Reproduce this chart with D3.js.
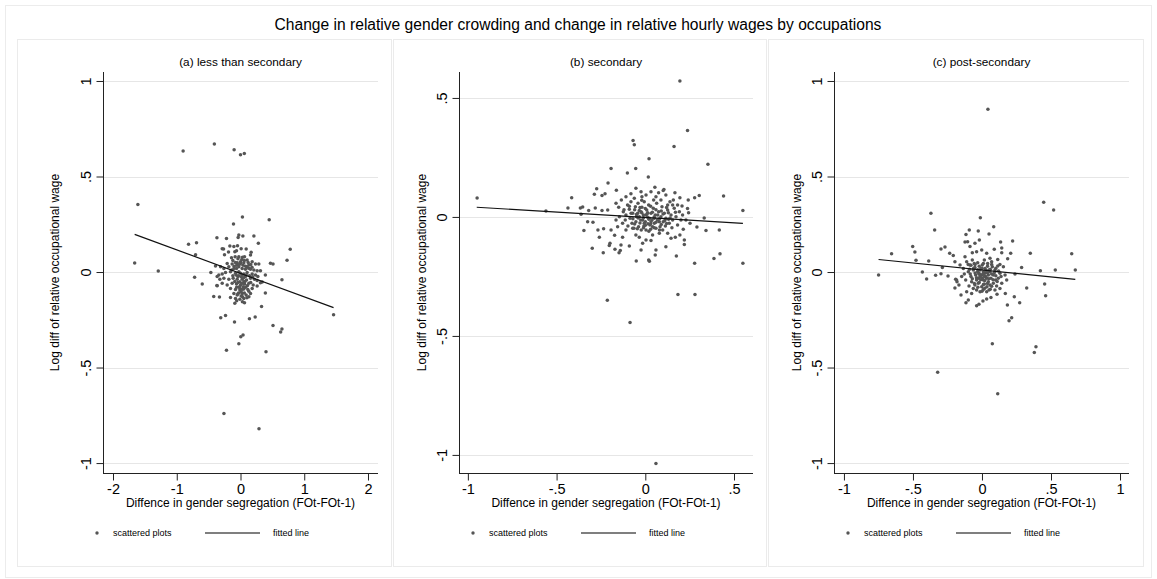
<!DOCTYPE html>
<html><head><meta charset="utf-8">
<script src="https://cdn.jsdelivr.net/npm/d3@7"></script>
<style>body{margin:0;background:#fff}text{font-family:"Liberation Sans",Arial,sans-serif;fill:#000}</style>
</head><body>
<script>
// ---------------- DATA ----------------
const mainTitle = "Change in relative gender crowding and change in relative hourly wages by occupations";
const panelTitles = ["(a) less than secondary", "(b) secondary", "(c) post-secondary"];
const xAxisTitle = "Diffence in gender segregation (FOt-FOt-1)";
const yAxisTitle = "Log diff of relative occupational wage";
const legendLabels = ["scattered plots", "fitted line"];

const xTicksA = [-2, -1, 0, 1, 2];
const xTickLabelsA = ["-2", "-1", "0", "1", "2"];
const xTicksB = [-1, -0.5, 0, 0.5];
const xTickLabelsB = ["-1", "-.5", "0", ".5"];
const xTicksC = [-1, -0.5, 0, 0.5, 1];
const xTickLabelsC = ["-1", "-.5", "0", ".5", "1"];
const yTicksAC = [-1, -0.5, 0, 0.5, 1];
const yTickLabelsAC = ["-1", "-.5", "0", ".5", "1"];
const yTicksB = [-1, -0.5, 0, 0.5];
const yTickLabelsB = ["-1", "-.5", "0", ".5"];

// fitted lines: [intercept, slope, xStart, xEnd]
const fitA = [-0.007, -0.123, -1.66, 1.46];
const fitB = [-0.002, -0.045, -0.95, 0.55];
const fitC = [0.011, -0.073, -0.749, 0.676];

const pointsA = [
[-0.90,0.633],[-0.41,0.67],[-0.10,0.64],[0.0,0.614],[0.06,0.62],[-1.61,0.354],[-1.66,0.047],[-1.29,0.005],[-0.815,0.145],[-0.69,0.153],[-0.705,0.09],[-0.72,-0.028],[-0.6,-0.063],[-0.465,-0.002],[-0.37,0.18],[-0.22,0.175],[-0.11,0.251],[0.03,0.288],[0.45,0.274],[0.21,0.188],[0.28,0.15],[0.78,0.119],[0.73,0.061],[0.47,0.046],[0.51,0.042],[0.65,-0.04],[0.39,-0.016],[0.34,-0.052],[0.39,-0.11],[0.33,-0.18],[1.46,-0.224],[0.51,-0.28],[0.65,-0.298],[0.63,-0.314],[0.23,-0.236],[0.14,-0.244],[-0.094,-0.262],[-0.235,-0.227],[-0.31,-0.239],[0.04,-0.33],[0.005,-0.339],[-0.026,-0.375],[-0.22,-0.41],[0.40,-0.417],[-0.42,-0.128],[-0.33,-0.131],[-0.37,-0.07],[-0.26,-0.74],[0.29,-0.82],
[-0.026,0.194],[0.037,0.188],[-0.037,0.181],[-0.167,0.136],[-0.104,0.133],[-0.047,0.138],[0.010,0.122],[0.089,0.120],[-0.287,0.122],[-0.266,0.120],[0.167,0.103],[0.157,0.089],[-0.251,0.091],[-0.188,0.105],[-0.089,0.106],[-0.063,0.112],[-0.141,0.075],[-0.084,0.080],[-0.026,0.080],[0.031,0.077],[0.063,0.080],[0.104,0.063],[0.183,0.054],[0.235,0.042],[0.287,0.042],[-0.209,0.045],[-0.131,0.042],[-0.052,0.049],[0.0,0.054],[0.052,0.049],[0.131,0.037],[-0.313,0.028],[-0.392,0.031],[-0.261,0.019],[-0.183,0.028],[-0.104,0.019],[-0.026,0.028],[0.026,0.019],[0.078,0.014],[0.157,0.014],[0.209,0.010],[0.261,0.007],[0.313,0.007],[-0.340,-0.016],[-0.287,-0.010],[-0.235,-0.003],[-0.157,0.002],[-0.078,-0.007],[0.0,-0.007],[0.052,-0.010],[0.104,-0.003],[0.183,-0.010],[0.235,-0.016],[0.272,-0.024],[-0.366,-0.024],[-0.324,-0.038],[-0.261,-0.033],[-0.183,-0.038],[-0.115,-0.033],[-0.052,-0.038],[0.026,-0.038],[0.094,-0.042],[0.157,-0.033],[0.219,-0.038],[0.261,-0.045],[0.313,-0.056],[-0.287,-0.059],[-0.209,-0.068],[-0.131,-0.059],[-0.063,-0.063],[0.0,-0.068],[0.063,-0.063],[0.131,-0.059],[0.199,-0.068],[0.261,-0.073],[-0.366,-0.072],[-0.157,-0.086],[-0.078,-0.091],[-0.010,-0.094],[0.052,-0.089],[0.115,-0.091],[0.183,-0.086],[-0.104,-0.112],[-0.042,-0.115],[0.026,-0.112],[0.089,-0.120],[0.157,-0.112],[-0.157,-0.134],[-0.078,-0.138],[-0.010,-0.143],[0.052,-0.138],[0.131,-0.129],[-0.089,-0.164],[0.063,-0.161],
[-0.026,0.002],[0.026,-0.016],[-0.010,-0.051],[0.042,-0.077],[-0.042,-0.024],[0.010,-0.103],[0.078,-0.024],[-0.063,0.019],[0.104,0.028],[0.0,0.045],[0.052,-0.051],[-0.016,-0.077],[0.031,-0.129],[-0.052,-0.120],
[-0.12,0.06],[-0.08,0.05],[-0.04,0.07],[0.02,0.065],[0.06,0.06],[0.12,0.05],[0.16,0.04],
[-0.14,0.01],[-0.10,0.03],[-0.06,0.035],[-0.02,0.04],[0.04,0.035],[0.08,0.03],[0.13,0.02],[0.18,0.025],
[-0.12,-0.02],[-0.07,-0.015],[-0.03,-0.02],[0.01,-0.025],[0.05,-0.03],[0.09,-0.015],[0.14,-0.02],[0.19,-0.025],
[-0.09,-0.05],[-0.04,-0.055],[0.02,-0.06],[0.07,-0.05],[0.11,-0.07],[0.16,-0.055],
[-0.06,-0.08],[-0.01,-0.085],[0.03,-0.09],[0.08,-0.08],[0.13,-0.10],
[-0.03,-0.11],[0.01,-0.125],[0.06,-0.11],[0.10,-0.135],[-0.06,-0.15],[0.03,-0.155]
];

const pointsB = [
[-0.948,0.080],[-0.56,0.025],[0.195,0.571],[-0.069,0.321],[-0.062,0.303],[0.238,0.363],[0.162,0.296],[0.353,0.221],[0.021,0.245],[-0.193,0.204],[-0.101,0.185],[-0.054,0.204],[0.017,0.168],[-0.210,0.143],[-0.274,0.118],[-0.163,0.112],[-0.415,0.081],[-0.287,0.095],[-0.244,0.090],[-0.227,0.097],[-0.436,0.038],[-0.366,0.038],[-0.353,0.042],[-0.319,0.027],[-0.282,0.038],[-0.244,0.027],[-0.212,0.029],[-0.362,0.011],[-0.325,-0.020],[-0.295,-0.022],[-0.346,-0.057],[-0.267,-0.055],[-0.259,-0.085],[-0.235,-0.050],[-0.299,-0.132],[-0.237,-0.151],[-0.199,-0.111],[-0.203,-0.120],[-0.171,-0.136],[-0.148,-0.150],[-0.141,-0.141],[-0.214,-0.350],[-0.051,-0.185],[0.019,-0.181],[0.023,-0.186],[0.056,-0.160],[0.175,-0.164],[0.116,-0.125],[0.220,-0.116],[0.278,-0.195],[0.387,-0.175],[0.421,-0.155],[0.550,-0.195],[0.184,-0.326],[0.280,-0.326],[0.550,0.027],[0.441,0.088],[0.332,-0.004],[0.342,-0.057],[0.417,-0.055],[0.291,-0.042],[0.304,0.090],[0.278,0.081],[0.242,0.071],[0.195,0.081],[0.167,0.102],[0.105,0.115],[0.054,0.125],[0.238,0.035],[0.207,0.046],[0.252,-0.027],[0.214,-0.052],[0.195,-0.076],[0.169,-0.085],[0.145,-0.090],[0.126,-0.069],[0.220,-0.097],[0.079,-0.069],[0.041,-0.076],[0.004,-0.097],[-0.034,-0.085],[-0.090,-0.122],[-0.137,-0.118],[-0.128,-0.085],[-0.173,-0.077],[-0.193,-0.055],[-0.156,-0.041],[-0.109,-0.055],[-0.071,-0.048],[-0.053,-0.076],[-0.015,-0.111],[0.032,-0.099],[0.060,-0.139],[-0.024,-0.139],[-0.086,-0.444],[0.06,-1.036],
[-0.165,0.057],[-0.150,0.041],[-0.135,0.071],[-0.124,0.022],[-0.109,0.085],[-0.100,0.050],[-0.090,0.032],[-0.081,0.064],[-0.071,0.015],[-0.062,0.078],[-0.056,0.043],[-0.049,0.001],[-0.041,0.057],[-0.034,0.027],[-0.026,-0.013],[-0.019,0.041],[-0.011,0.008],[-0.006,0.064],[0.0,-0.020],[0.008,0.029],[0.013,-0.001],[0.019,0.050],[0.026,-0.034],[0.032,0.015],[0.038,-0.013],[0.045,0.036],[0.051,-0.027],[0.056,0.008],[0.064,0.057],[0.069,-0.013],[0.075,0.022],[0.083,-0.041],[0.088,0.001],[0.094,0.043],[0.101,-0.020],[0.107,0.015],[0.116,-0.006],[0.126,0.029],[0.135,-0.027],[0.145,0.008],[0.154,-0.013],[0.163,0.036],[0.173,0.001],[0.182,-0.034],[0.192,0.022],[0.201,-0.013],[-0.113,-0.013],[-0.098,-0.038],[-0.086,-0.006],[-0.075,-0.027],[-0.064,-0.048],[-0.053,-0.020],[-0.038,-0.041],[-0.023,-0.055],[-0.008,-0.038],[0.004,-0.055],[0.015,-0.029],[0.030,-0.052],[0.041,-0.041],[0.060,-0.048],[0.079,-0.020],[0.098,-0.055],[0.113,-0.038],[0.131,-0.010],[-0.109,0.008],[-0.146,0.001],[-0.128,-0.027],[-0.165,-0.013],[-0.024,0.106],[0.004,0.092],[0.032,0.106],[0.060,0.085],[0.088,0.071],[0.116,0.092],[0.139,0.064],[0.158,0.071],[-0.081,0.097],[-0.053,0.120],[-0.019,0.085],[0.047,0.071],[0.075,0.102],[0.101,0.111],[0.126,0.050],[0.154,0.050],[0.182,0.050],[0.210,0.008],[0.229,-0.013],[0.244,0.018],
[-0.034,0.001],[-0.015,-0.013],[0.004,0.008],[0.023,-0.006],[-0.024,0.022],[-0.006,-0.027],[-0.043,0.015],[0.013,0.018],[0.032,-0.020],[0.051,-0.006],
[-0.09,0.045],[-0.06,0.03],[-0.03,0.04],[0.0,0.035],[0.03,0.045],[0.06,0.03],[0.09,0.025],[0.12,0.04],
[-0.08,0.015],[-0.05,0.01],[-0.02,0.018],[0.01,0.012],[0.04,0.02],[0.07,0.008],[0.10,0.012],[0.13,0.018],
[-0.07,-0.008],[-0.04,-0.005],[-0.01,-0.003],[0.02,-0.01],[0.05,0.0],[0.08,-0.008],[0.11,-0.015],[0.14,-0.004],
[-0.06,-0.03],[-0.03,-0.025],[0.0,-0.035],[0.03,-0.03],[0.06,-0.022],[0.09,-0.032],[0.12,-0.028],
[-0.045,-0.05],[-0.01,-0.045],[0.02,-0.06],[0.05,-0.045],[0.08,-0.055],[0.15,-0.045],[-0.12,0.03],[0.17,0.02],[-0.02,0.07]
];

const pointsC = [
[0.043,0.852],[0.114,-0.637],[0.447,0.365],[0.519,0.325],[-0.370,0.307],[-0.343,0.220],[-0.012,0.284],[0.085,0.237],[-0.655,0.096],[-0.749,-0.016],[-0.502,0.133],[-0.486,0.105],[-0.478,0.061],[-0.432,0.0],[-0.401,-0.037],[-0.386,0.058],[-0.336,-0.017],[-0.297,-0.009],[-0.287,0.024],[-0.297,0.120],[-0.268,0.131],[-0.234,0.098],[-0.208,0.086],[-0.246,-0.021],[-0.191,-0.038],[-0.181,-0.051],[-0.196,-0.084],[-0.152,-0.120],[-0.116,-0.161],[-0.099,-0.147],[-0.039,-0.176],[-0.022,-0.169],[0.007,-0.152],[0.034,-0.141],[0.065,-0.134],[0.109,-0.117],[0.169,-0.112],[0.234,-0.129],[0.273,-0.161],[0.184,-0.173],[0.196,-0.255],[0.215,-0.239],[0.075,-0.375],[0.379,-0.421],[0.391,-0.391],[-0.321,-0.524],[0.324,-0.084],[0.454,-0.063],[0.461,-0.124],[0.239,-0.010],[0.287,0.024],[0.350,0.098],[0.423,0.007],[0.531,0.010],[0.650,0.096],[0.676,0.010],[0.222,0.162],[0.208,0.098],[0.186,0.070],[0.143,0.101],[0.135,0.157],[0.143,0.126],[0.089,0.119],[0.051,0.199],[-0.027,0.215],[-0.092,0.220],[-0.116,0.197],[-0.123,0.157],[-0.104,0.159],[-0.087,0.133],[-0.051,0.150],[-0.019,0.168],[-0.070,0.101],[-0.039,0.106],[-0.002,0.115],[0.034,0.098],[0.058,0.072],[0.114,0.066],[-0.196,0.054],[-0.184,-0.042],
[-0.111,0.054],[-0.087,0.037],[-0.070,0.063],[-0.051,0.024],[-0.031,0.049],[-0.014,0.010],[0.002,0.037],[0.022,0.019],[0.041,0.045],[0.058,0.002],[0.075,0.028],[0.094,0.010],[0.114,0.031],[0.130,-0.007],[-0.099,0.002],[-0.080,-0.024],[-0.063,0.010],[-0.046,-0.016],[-0.027,-0.033],[-0.007,-0.016],[0.010,-0.042],[0.027,-0.024],[0.046,-0.051],[0.065,-0.033],[0.082,-0.016],[0.099,-0.042],[0.118,-0.033],[0.138,-0.024],[-0.075,-0.051],[-0.051,-0.068],[-0.027,-0.059],[-0.002,-0.077],[0.017,-0.063],[0.036,-0.077],[0.058,-0.068],[0.082,-0.059],[0.106,-0.073],[-0.039,-0.094],[-0.014,-0.103],[0.010,-0.091],[0.034,-0.103],[-0.063,-0.086],[-0.094,-0.073],[-0.118,-0.042],[-0.128,-0.010],[-0.135,0.019],[-0.007,0.019],[0.010,0.002],[-0.014,-0.024],[0.022,-0.007],[-0.031,0.002],[0.046,-0.016],[0.002,-0.033],[-0.039,-0.042],[-0.056,0.045],[0.017,0.063],[0.070,0.054],[-0.123,0.080],[-0.159,0.037],[0.155,0.028],[0.167,-0.016],[0.179,-0.042],[0.143,-0.059],[-0.147,-0.024],[-0.167,-0.068],[-0.111,-0.103],[-0.075,-0.112],[0.051,-0.094],[0.094,-0.094],[0.130,-0.086],
[-0.002,-0.016],[0.034,-0.033],[-0.022,-0.007],[0.017,-0.024],[0.051,0.010],
[-0.08,0.035],[-0.05,0.04],[-0.02,0.03],[0.01,0.045],[0.04,0.03],[0.07,0.04],[0.1,0.02],
[-0.09,0.015],[-0.06,0.02],[-0.03,0.012],[0.0,0.02],[0.03,0.008],[0.06,0.015],[0.09,-0.002],[0.12,0.005],
[-0.085,-0.01],[-0.05,-0.005],[-0.02,-0.012],[0.01,-0.01],[0.04,-0.004],[0.07,-0.01],[0.1,-0.02],
[-0.07,-0.035],[-0.04,-0.03],[-0.01,-0.04],[0.02,-0.045],[0.05,-0.035],[0.08,-0.04],[0.11,-0.05],
[-0.055,-0.06],[-0.02,-0.055],[0.01,-0.065],[0.04,-0.06],[0.07,-0.075],[-0.03,-0.08],[0.02,-0.085],[0.06,-0.09],[-0.1,0.04],[0.13,0.04],[0.0,-0.1]
];

// ---------------- LAYOUT ----------------
const W = 1157, H = 579;
const svg = d3.select("body").append("svg").attr("width", W).attr("height", H);
svg.append("rect").attr("width", W).attr("height", H).attr("fill", "#fff");
svg.append("rect").attr("x", 5.5).attr("y", 5.5).attr("width", 1146).attr("height", 572)
  .attr("fill", "none").attr("stroke", "#ececec");

svg.append("text").attr("x", 578).attr("y", 25).attr("dy", "0.35em")
  .attr("text-anchor", "middle").style("font-size", "15.6px").text(mainTitle);

const panels = [
  {box: [17, 39, 375, 527], plot: [103, 72, 378, 473], xDom: [-2.157, 2.157], yDom: [-1.052, 1.047],
   xT: xTicksA, xL: xTickLabelsA, yT: yTicksAC, yL: yTickLabelsAC, pts: pointsA, fit: fitA, title: panelTitles[0], ylOff: 48},
  {box: [393, 39, 374, 527], plot: [459, 72, 753, 473], xDom: [-1.05, 0.607], yDom: [-1.076, 0.609],
   xT: xTicksB, xL: xTickLabelsB, yT: yTicksB, yL: yTickLabelsB, pts: pointsB, fit: fitB, title: panelTitles[1], ylOff: 37},
  {box: [768, 39, 376, 527], plot: [834, 72, 1129, 473], xDom: [-1.072, 1.065], yDom: [-1.052, 1.047],
   xT: xTicksC, xL: xTickLabelsC, yT: yTicksAC, yL: yTickLabelsAC, pts: pointsC, fit: fitC, title: panelTitles[2], ylOff: 37}
];

panels.forEach(p => {
  const [bx, by, bw, bh] = p.box;
  const [l, t, r, b] = p.plot;
  const g = svg.append("g");
  g.append("rect").attr("x", bx + 0.5).attr("y", by + 0.5).attr("width", bw - 1).attr("height", bh)
    .attr("fill", "#fff").attr("stroke", "#ebebeb");

  const x = d3.scaleLinear().domain(p.xDom).range([l, r]);
  const y = d3.scaleLinear().domain(p.yDom).range([b, t]);

  g.append("text").attr("x", (l + r) / 2).attr("y", 62).attr("dy", "0.35em")
    .attr("text-anchor", "middle").style("font-size", "11.8px").text(p.title);

  // gridlines
  g.append("g").selectAll("line").data(p.yT).join("line")
    .attr("x1", l).attr("x2", r).attr("y1", d => Math.round(y(d)) + 0.5).attr("y2", d => Math.round(y(d)) + 0.5)
    .attr("stroke", "#e6e6e6").attr("stroke-width", 1);

  // y axis
  const yAx = g.append("g").attr("transform", `translate(${l + 0.5},0)`)
    .call(d3.axisLeft(y).tickValues(p.yT).tickFormat((d, i) => p.yL[i]).tickSize(7).tickSizeOuter(0));
  yAx.select(".domain").attr("stroke", "#222").attr("d", `M0,${t}V${b}`);
  yAx.selectAll(".tick line").attr("stroke", "#222");
  yAx.selectAll(".tick text").attr("x", null).attr("dy", "0.35em").attr("text-anchor", "middle")
    .attr("transform", "translate(-18,0) rotate(-90)")
    .style("font-size", "14.5px").style("font-family", '"Liberation Sans",Arial,sans-serif').attr("fill", "#000");

  // x axis
  const xAx = g.append("g").attr("transform", `translate(0,${b + 0.5})`)
    .call(d3.axisBottom(x).tickValues(p.xT).tickFormat((d, i) => p.xL[i]).tickSize(7).tickSizeOuter(0));
  xAx.select(".domain").attr("stroke", "#222").attr("d", `M${l},0H${r}`);
  xAx.selectAll(".tick line").attr("stroke", "#222");
  xAx.selectAll(".tick text").attr("y", 15).attr("dy", "0.35em")
    .style("font-size", "14.5px").style("font-family", '"Liberation Sans",Arial,sans-serif').attr("fill", "#000");

  // axis titles
  g.append("text").attr("x", (l + r) / 2).attr("y", 503).attr("dy", "0.35em")
    .attr("text-anchor", "middle").style("font-size", "12px").text(xAxisTitle);
  g.append("text").attr("transform", `translate(${l - p.ylOff},${(t + b) / 2}) rotate(-90)`).attr("dy", "0.35em")
    .attr("text-anchor", "middle").style("font-size", "12px").text(yAxisTitle);

  // points
  g.append("g").selectAll("circle").data(p.pts).join("circle")
    .attr("cx", d => x(d[0])).attr("cy", d => y(d[1])).attr("r", 1.75).attr("fill", "#555");

  // fitted line
  const [a0, a1, x0, x1] = p.fit;
  g.append("line").attr("x1", x(x0)).attr("y1", y(a0 + a1 * x0)).attr("x2", x(x1)).attr("y2", y(a0 + a1 * x1))
    .attr("stroke", "#111").attr("stroke-width", 1.2);

  // legend
  const ly = 533;
  g.append("circle").attr("cx", bx + 80).attr("cy", ly).attr("r", 1.7).attr("fill", "#555");
  g.append("text").attr("x", bx + 96).attr("y", ly).attr("dy", "0.35em").style("font-size", "9px").text(legendLabels[0]);
  g.append("line").attr("x1", bx + 188).attr("x2", bx + 243).attr("y1", ly).attr("y2", ly)
    .attr("stroke", "#555").attr("stroke-width", 1.3);
  g.append("text").attr("x", bx + 256).attr("y", ly).attr("dy", "0.35em").style("font-size", "9px").text(legendLabels[1]);
});
</script>
</body></html>
